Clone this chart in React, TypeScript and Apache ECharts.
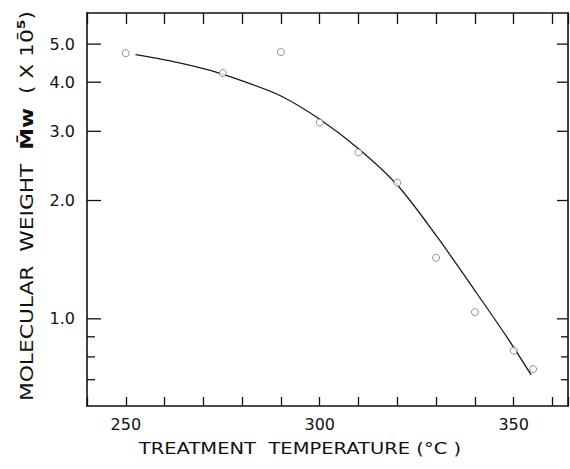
import { useEffect, useRef } from "react";
import * as echarts from "echarts";

// Measured points: treatment temperature (°C) vs molecular weight (× 10^-5)
const temperatures = [250, 275, 290, 300, 310, 320, 330, 340, 350, 355];
const molecularWeights = [4.74, 4.22, 4.77, 3.16, 2.65, 2.22, 1.43, 1.04, 0.83, 0.745];

// Hand-fitted trend curve
const curveTemps = [252.5, 262, 272, 280, 290, 300, 310, 320, 330, 340, 348, 354.5];
const curveWeights = [4.7, 4.52, 4.28, 4.03, 3.69, 3.22, 2.71, 2.19, 1.63, 1.18, 0.906, 0.72];

// Axis ranges and ticks
const xRange = [240, 364];
const yRange = [0.6, 6];
const xLabelValues = [250, 300, 350];
const yMajorTicks = [1, 2, 3, 4, 5];
const yMinorTicks = [0.7, 0.8, 0.9];

const FONT = '"DejaVu Sans", "Liberation Sans", sans-serif';
const INK = "#111";

export default function App() {
  const ref = useRef<HTMLDivElement>(null);

  useEffect(() => {
    if (!ref.current) return;
    document.documentElement.style.overflow = "hidden";
    document.body.style.overflow = "hidden";
    document.body.style.margin = "0";

    const chart = echarts.init(ref.current, undefined, { renderer: "svg", width: 570, height: 469 });

    const pointData = temperatures.map((t, i) => [t, molecularWeights[i]]);
    const curveData = curveTemps.map((t, i) => [t, curveWeights[i]]);
    const yTickData = [
      ...yMajorTicks.map((v) => [xRange[0], v, 1]),
      ...yMinorTicks.map((v) => [xRange[0], v, 0]),
    ];

    const xAxisBase = {
      type: "value" as const,
      min: xRange[0],
      max: xRange[1],
      interval: 10,
      splitLine: { show: false },
      axisLine: { show: true, lineStyle: { color: INK, width: 1.6 } },
    };
    const yAxisBase = {
      type: "log" as const,
      logBase: 10,
      min: yRange[0],
      max: yRange[1],
      splitLine: { show: false },
      axisTick: { show: false },
      axisLabel: { show: false },
      axisLine: { show: true, lineStyle: { color: INK, width: 1.6 } },
    };

    chart.setOption({
      animation: false,
      backgroundColor: "#fff",
      grid: {
        left: 87,
        top: 13,
        right: 2,
        bottom: 63,
        containLabel: false,
        outerBoundsMode: "none",
      },
      xAxis: [
        {
          ...xAxisBase,
          position: "bottom",
          axisTick: { show: true, inside: true, length: 9, lineStyle: { color: INK, width: 1.3 } },
          axisLabel: {
            show: true,
            margin: 10,
            color: INK,
            fontSize: 16,
            fontFamily: FONT,
            formatter: (v: number) => (xLabelValues.includes(v) ? String(v) : ""),
          },
        },
        {
          ...xAxisBase,
          position: "top",
          axisTick: { show: true, inside: true, length: 11, lineStyle: { color: INK, width: 1.3 } },
          axisLabel: { show: false },
        },
      ],
      yAxis: [
        { ...yAxisBase, position: "left" },
        { ...yAxisBase, position: "right" },
      ],
      series: [
        {
          type: "line",
          data: curveData,
          smooth: 0.3,
          showSymbol: false,
          silent: true,
          lineStyle: { color: "#1a1a1a", width: 1.3 },
          z: 2,
        },
        {
          type: "scatter",
          data: pointData,
          symbol: "circle",
          symbolSize: 7,
          silent: true,
          itemStyle: { color: "#fff", borderColor: "#666", borderWidth: 0.9 },
          z: 3,
        },
        {
          // Left and right tick marks of the logarithmic axis, with labels
          type: "custom",
          data: yTickData,
          encode: { x: 0, y: 1 },
          clip: false,
          silent: true,
          z: 4,
          renderItem: (_params: any, api: any) => {
            const v = api.value(1) as number;
            const major = api.value(2) === 1;
            const l = api.coord([xRange[0], v]);
            const r = api.coord([xRange[1], v]);
            const lenL = major ? 14 : 8;
            const lenR = major ? 11 : 7;
            const stroke = { stroke: INK, lineWidth: 1.3 };
            const children: any[] = [
              { type: "line", shape: { x1: l[0], y1: l[1], x2: l[0] + lenL, y2: l[1] }, style: stroke },
              { type: "line", shape: { x1: r[0] - lenR, y1: r[1], x2: r[0], y2: r[1] }, style: stroke },
            ];
            if (major) {
              children.push({
                type: "text",
                style: {
                  text: v.toFixed(1),
                  x: l[0] - 12,
                  y: l[1],
                  align: "right",
                  verticalAlign: "middle",
                  fontSize: 16,
                  fontFamily: FONT,
                  fill: INK,
                },
              });
            }
            return { type: "group", children };
          },
        },
      ],
      graphic: [
        {
          type: "text",
          x: 300,
          y: 448,
          scaleX: 1.22,
          silent: true,
          style: {
            text: "TREATMENT  TEMPERATURE (°C )",
            align: "center",
            verticalAlign: "middle",
            fontSize: 16,
            fontFamily: FONT,
            fill: INK,
          },
        },
        {
          type: "text",
          x: 27,
          y: 206,
          rotation: Math.PI / 2,
          scaleX: 1.28,
          silent: true,
          style: {
            text: "{a|MOLECULAR  WEIGHT  }{b|M\u0304w}{a|  ( X 10\u0304}{s|5}{a|)}",
            align: "center",
            verticalAlign: "middle",
            fill: INK,
            rich: {
              a: { fontSize: 17, fontFamily: FONT, fill: INK, lineHeight: 22, verticalAlign: "middle" },
              b: { fontSize: 17, fontFamily: FONT, fontWeight: "bold", fill: INK, lineHeight: 22, verticalAlign: "middle" },
              s: { fontSize: 11, fontFamily: FONT, fontWeight: "bold", fill: INK, lineHeight: 11, verticalAlign: "top" },
            },
          },
        },
      ],
    });

    return () => chart.dispose();
  }, []);

  return (
    <div
      ref={ref}
      style={{ position: "fixed", left: 0, top: 0, width: 570, height: 469, background: "#fff" }}
    />
  );
}
